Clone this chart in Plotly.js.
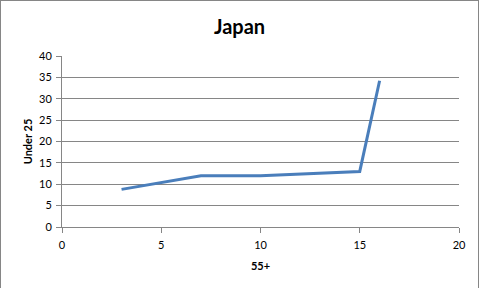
<!DOCTYPE html>
<html>
<head>
<meta charset="utf-8">
<script src="https://cdn.plot.ly/plotly-3.0.1.min.js"></script>
<style>
html,body{margin:0;padding:0;background:#fff;}
#wrap{width:477px;height:287px;border:1px solid #868686;border-bottom:none;overflow:hidden;}
#chart{width:477px;height:287px;}
</style>
</head>
<body>
<div id="wrap"><div id="chart"></div></div>
<script>
const x55 = [3, 7, 10, 15, 16];
const under25 = [8.8, 12, 12, 13, 34.2];
const chartTitle = "Japan";
const xTitle = "55+";
const yTitle = "Under 25";

const font = "Lato, 'Open Sans', sans-serif";
Plotly.newPlot('chart', [{
  x: x55, y: under25, type: 'scatter', mode: 'lines',
  line: {color: '#4a7ebb', width: 3},
  hoverinfo: 'skip'
}], {
  width: 477, height: 287,
  margin: {l: 61, r: 19, t: 55, b: 61},
  paper_bgcolor: '#fff', plot_bgcolor: '#fff',
  showlegend: false,
  title: {text: '<b>' + chartTitle + '</b>', x: 0.5, xanchor: 'center', y: 0.91, yanchor: 'middle',
          font: {family: font, size: 20, color: '#000'}},
  xaxis: {range: [0, 20], dtick: 5, tick0: 0, showgrid: false, zeroline: false,
          showline: true, linecolor: '#868686', linewidth: 1,
          ticks: 'outside', ticklen: 5, tickcolor: '#868686', ticklabelstandoff: 3,
          tickfont: {family: font, size: 11, color: '#000'},
          title: {text: '<b>' + xTitle + '</b>', font: {family: font, size: 11, color: '#000'}, standoff: 12}},
  yaxis: {range: [0, 40], dtick: 5, tick0: 0, showgrid: true, gridcolor: '#868686', gridwidth: 1,
          zeroline: false, showline: true, linecolor: '#868686', linewidth: 1,
          ticks: 'outside', ticklen: 5, tickcolor: '#868686', ticklabelstandoff: 2,
          tickfont: {family: font, size: 11, color: '#000'},
          title: {text: '<b>' + yTitle + '</b>', font: {family: font, size: 11, color: '#000'}, standoff: 4}}
}, {displayModeBar: false, staticPlot: true});
</script>
</body>
</html>
